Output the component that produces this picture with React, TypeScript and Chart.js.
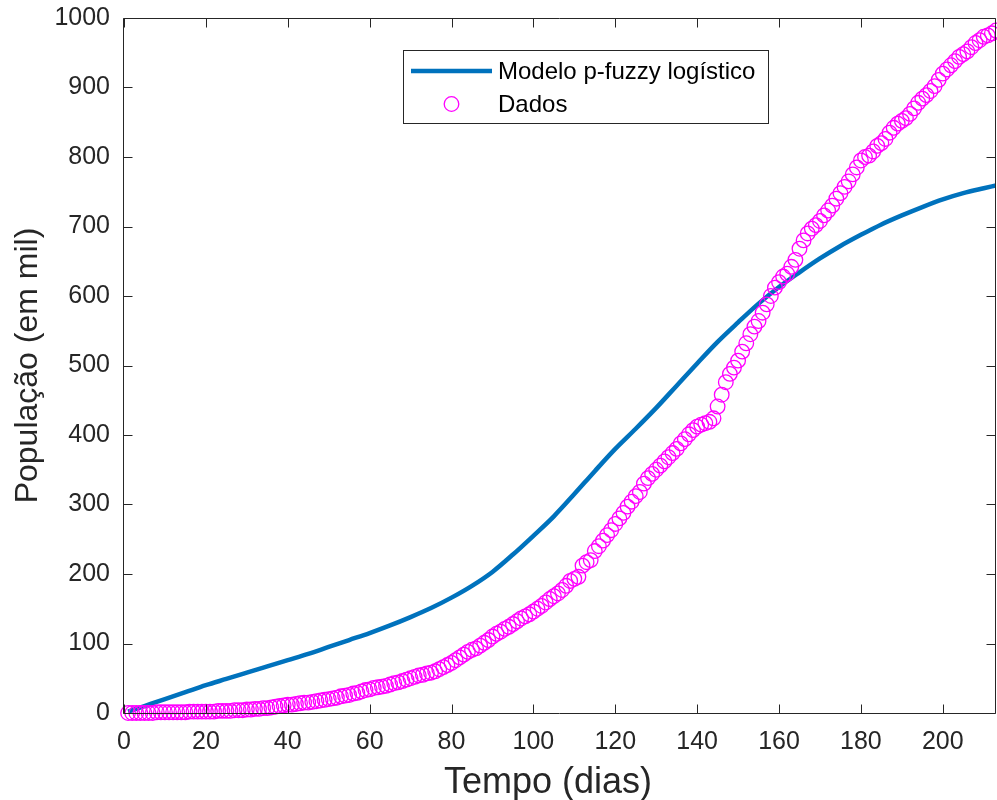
import React, { useEffect, useRef } from "react";
import { Chart, registerables } from "chart.js";
Chart.register(...registerables);

const seriesLabels = ["Modelo p-fuzzy logístico", "Dados"];
const xTitle = "Tempo (dias)";
const yTitle = "População (em mil)";
const xTickValues = [0, 20, 40, 60, 80, 100, 120, 140, 160, 180, 200];
const yTickValues = [0, 100, 200, 300, 400, 500, 600, 700, 800, 900, 1000];

const modelDays = [1, 5, 10, 15, 20, 25, 30, 35, 40, 45, 50, 55, 60, 65, 70, 75, 80, 85, 90, 95, 100, 105, 110, 115, 120, 125, 130, 135, 140, 145, 150, 155, 160, 165, 170, 175, 180, 185, 190, 195, 200, 205, 210, 213];
const modelValues = [2, 10, 20, 30, 40, 49, 58, 67, 76, 85, 95, 105, 115, 126, 138, 151, 166, 183, 203, 228, 255, 283, 315, 348, 380, 409, 439, 471, 503, 534, 562, 589, 613, 634, 654, 672, 688, 703, 716, 728, 739, 748, 755, 759];

const dataStartDay = 1;
const dataValues = [
  0, 0, 0, 0, 0, 0, 0, 1, 1, 1,
  1, 1, 1, 1, 1, 2, 2, 2, 2, 2,
  2, 2, 3, 3, 3, 3, 4, 4, 4, 5,
  5, 6, 6, 7, 7, 8, 9, 10, 11, 12,
  12, 13, 14, 15, 15, 16, 17, 18, 19, 20,
  21, 22, 24, 25, 26, 28, 29, 31, 33, 34,
  36, 37, 38, 39, 41, 43, 44, 46, 48, 50,
  52, 54, 55, 57, 58, 60, 63, 66, 69, 72,
  76, 80, 84, 88, 91, 93, 97, 101, 105, 110,
  114, 117, 121, 124, 128, 132, 136, 139, 142, 146,
  150, 154, 159, 164, 168, 172, 177, 183, 190, 193,
  196, 212, 217, 220, 233, 240, 248, 256, 263, 272,
  280, 288, 297, 304, 312, 318, 330, 338, 344, 350,
  356, 362, 368, 374, 380, 388, 394, 401, 407, 412,
  415, 417, 419, 424, 441, 458, 476, 488, 497, 507,
  520, 532, 545, 556, 564, 576, 588, 600, 612, 620,
  628, 632, 642, 652, 668, 680, 690, 697, 702, 708,
  716, 723, 730, 740, 748, 757, 765, 775, 785, 795,
  800, 802, 808, 816, 820, 826, 835, 842, 848, 852,
  856, 862, 870, 878, 884, 889, 895, 902, 911, 920,
  926, 932, 938, 944, 948, 952, 958, 964, 968, 973,
  975, 978, 982,
];

const BLUE = "#0072BD";
const MAGENTA = "#FF00FF";
const AXIS = "#262626";
const FONT = "'Liberation Sans', Arial, Helvetica, sans-serif";

const framePlugin = {
  id: "matlabFrame",
  afterDraw(chart: any) {
    const { ctx, chartArea, scales } = chart;
    const { left, right, top, bottom } = chartArea;
    const xs = scales.x;
    const ys = scales.y;
    ctx.save();
    ctx.strokeStyle = AXIS;
    ctx.lineWidth = 1;
    const L = Math.round(left) - 0.5;
    const R = Math.round(right) - 0.5;
    const T = Math.round(top) + 0.5;
    const B = Math.round(bottom) + 0.5;
    ctx.beginPath();
    ctx.moveTo(L, T);
    ctx.lineTo(R, T);
    ctx.lineTo(R, B);
    ctx.lineTo(L, B);
    ctx.closePath();
    ctx.stroke();
    const tl = 9;
    ctx.beginPath();
    xTickValues.forEach((v) => {
      const px = Math.round(xs.getPixelForValue(v)) + 0.5;
      ctx.moveTo(px, B);
      ctx.lineTo(px, B - tl);
      ctx.moveTo(px, T);
      ctx.lineTo(px, T + tl);
    });
    yTickValues.forEach((v) => {
      const py = Math.round(ys.getPixelForValue(v)) + 0.5;
      ctx.moveTo(L, py);
      ctx.lineTo(L + tl, py);
      ctx.moveTo(R, py);
      ctx.lineTo(R - tl, py);
    });
    ctx.stroke();

    // axis titles
    ctx.fillStyle = AXIS;
    ctx.textAlign = "center";
    ctx.textBaseline = "middle";
    ctx.font = `36px ${FONT}`;
    ctx.fillText(xTitle, 548, 783);
    ctx.font = `32px ${FONT}`;
    ctx.save();
    ctx.translate(28, (top + bottom) / 2);
    ctx.rotate(-Math.PI / 2);
    ctx.fillText(yTitle, 0, 0);
    ctx.restore();

    // legend
    const bx = 403.5, by = 50.5, bw = 365, bh = 73;
    ctx.fillStyle = "#ffffff";
    ctx.fillRect(bx, by, bw, bh);
    ctx.strokeStyle = AXIS;
    ctx.lineWidth = 1;
    ctx.strokeRect(bx, by, bw, bh);
    ctx.strokeStyle = BLUE;
    ctx.lineWidth = 4.5;
    ctx.beginPath();
    ctx.moveTo(411, 71);
    ctx.lineTo(492, 71);
    ctx.stroke();
    ctx.strokeStyle = MAGENTA;
    ctx.lineWidth = 1.3;
    ctx.beginPath();
    ctx.arc(451.5, 104, 7.3, 0, Math.PI * 2);
    ctx.stroke();
    ctx.fillStyle = "#000000";
    ctx.font = `24px ${FONT}`;
    ctx.textAlign = "left";
    ctx.textBaseline = "middle";
    ctx.fillText(chart.data.datasets[0].label, 498, 72);
    ctx.fillText(chart.data.datasets[1].label, 498, 105);
    ctx.restore();
  },
};

export default function App() {
  const ref = useRef<HTMLCanvasElement>(null);
  useEffect(() => {
    if (!ref.current) return;
    const modelPoints = modelDays.map((d, i) => ({ x: d, y: modelValues[i] }));
    const dataPoints = dataValues.map((v, i) => ({ x: dataStartDay + i, y: v }));
    const chart = new Chart(ref.current, {
      type: "scatter",
      data: {
        datasets: [
          {
            label: seriesLabels[0],
            data: modelPoints,
            showLine: true,
            borderColor: BLUE,
            backgroundColor: BLUE,
            borderWidth: 4.5,
            pointRadius: 0,
            cubicInterpolationMode: "monotone",
            order: 2,
          },
          {
            label: seriesLabels[1],
            data: dataPoints,
            showLine: false,
            borderColor: MAGENTA,
            backgroundColor: "rgba(0,0,0,0)",
            borderWidth: 1.3,
            pointRadius: 7.3,
            pointStyle: "circle",
            clip: false,
            order: 1,
          },
        ],
      },
      options: {
        responsive: false,
        animation: false,
        layout: { autoPadding: false, padding: { top: 18, right: 1, left: 0, bottom: 0 } },
        plugins: { legend: { display: false }, tooltip: { enabled: false } },
        scales: {
          x: {
            type: "linear",
            min: 0,
            max: 213,
            grid: { display: false, drawTicks: false },
            border: { display: false },
            afterBuildTicks: (s: any) => {
              s.ticks = xTickValues.map((v) => ({ value: v }));
            },
            afterFit: (s: any) => {
              s.height = 87;
              s.paddingLeft = 0;
              s.paddingRight = 0;
            },
            ticks: {
              autoSkip: false,
              maxRotation: 0,
              padding: 14,
              color: AXIS,
              font: { family: FONT, size: 25 },
              callback: (v: any) => String(v),
            },
          },
          y: {
            type: "linear",
            min: 0,
            max: 1000,
            grid: { display: false, drawTicks: false },
            border: { display: false },
            afterBuildTicks: (s: any) => {
              s.ticks = yTickValues.map((v) => ({ value: v }));
            },
            afterFit: (s: any) => {
              s.width = 124;
              s.paddingTop = 0;
              s.paddingBottom = 0;
            },
            ticks: {
              autoSkip: false,
              padding: 14,
              color: AXIS,
              font: { family: FONT, size: 25 },
              callback: (v: any) => String(v),
            },
          },
        },
      },
      plugins: [framePlugin],
    });
    return () => chart.destroy();
  }, []);
  return (
    <div style={{ position: "fixed", left: 0, top: 0, width: 997, height: 800, background: "#fff" }}>
      <canvas ref={ref} width={997} height={800} style={{ width: 997, height: 800, display: "block" }} />
    </div>
  );
}
